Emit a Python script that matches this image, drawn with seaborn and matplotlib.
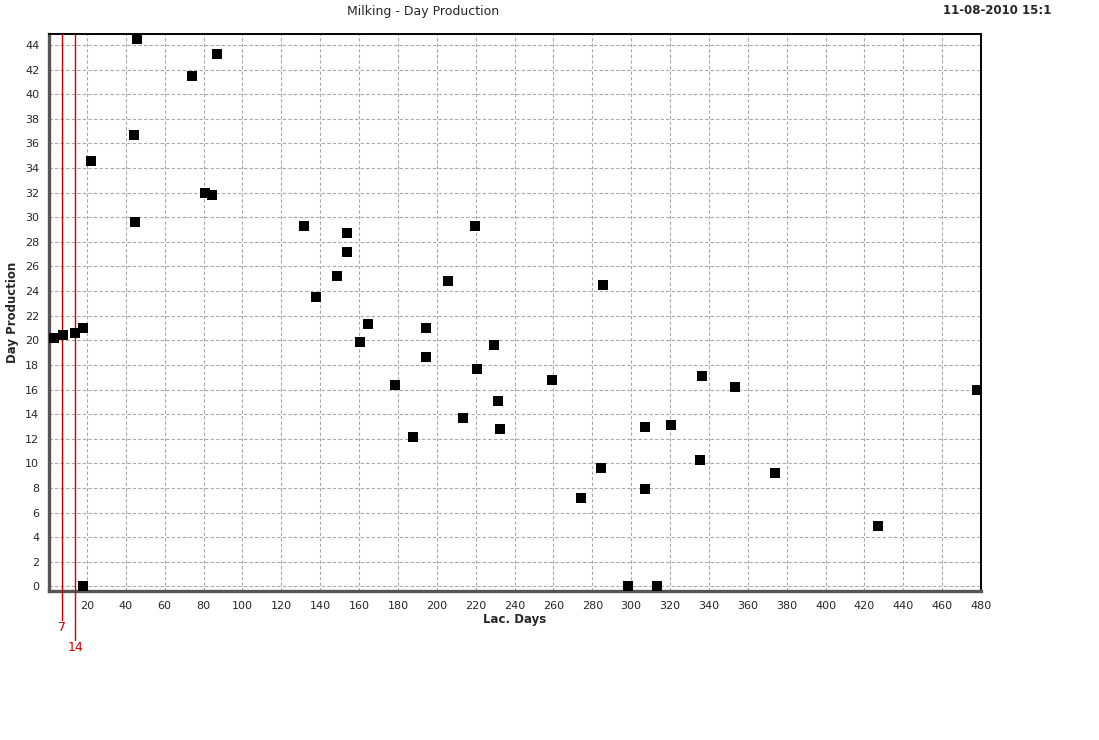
import numpy as np
import pandas as pd
import matplotlib
matplotlib.use("Agg")
import matplotlib.pyplot as plt
import matplotlib.transforms as mtransforms
from matplotlib.ticker import MultipleLocator
import seaborn as sns

# lactation day vs day production (kg)
lac_days = [3.0, 7.7, 13.8, 18.0, 18.0, 22.2, 45.9, 44.4, 44.9, 74.2,
            87.1, 80.7, 84.2, 131.8, 138.0, 148.8, 154.0, 154.0, 160.6, 164.8,
            178.7, 187.9, 194.6, 194.6, 205.9, 213.6, 219.8, 220.8, 229.6, 231.6,
            232.7, 259.4, 274.3, 284.6, 285.7, 298.5, 307.3, 307.3, 313.5, 320.7,
            335.6, 336.6, 353.6, 374.2, 427.2, 478.1]
day_prod = [20.2, 20.4, 20.6, 21.0, 0.0, 34.6, 44.5, 36.7, 29.6, 41.5,
            43.25, 31.95, 31.8, 29.3, 23.5, 25.2, 28.7, 27.15, 19.9, 21.3,
            16.4, 12.1, 21.0, 18.65, 24.8, 13.65, 29.3, 17.7, 19.6, 15.1,
            12.75, 16.8, 7.2, 9.6, 24.5, 0.0, 12.95, 7.9, 0.0, 13.1,
            10.3, 17.1, 16.2, 9.25, 4.9, 16.0]

# reference lines (days) and their labels
ref_days = [7, 14]
ref_labels = ["7", "14"]

title = "Milking - Day Production"
stamp = "11-08-2010 15:1"

df = pd.DataFrame({"Lac. Days": lac_days, "Day Production": day_prod})

sns.set_style("white")
plt.rcParams["font.family"] = ["DejaVu Sans"]

fig = plt.figure(figsize=(10.99, 7.40), dpi=100)
ax = fig.add_axes([49 / 1099, 1 - 591 / 740, 932 / 1099, 557 / 740])

sns.scatterplot(data=df, x="Lac. Days", y="Day Production", ax=ax,
                marker="s", s=52, color="black", linewidth=0, zorder=5)

ax.set_xlim(0.5, 480)
ax.set_ylim(-0.38, 44.9)
ax.set_xticks(np.arange(20, 481, 20))
ax.set_yticks(np.arange(0, 45, 2))
ax.xaxis.set_minor_locator(MultipleLocator(5))
ax.yaxis.set_minor_locator(MultipleLocator(0.5))
ax.tick_params(axis="both", which="major", direction="out", length=4, width=0.8,
               color="#555555", labelsize=8, pad=3)
ax.tick_params(axis="both", which="minor", direction="out", length=2, width=0.6,
               color="#777777")
ax.grid(True, which="major", color="#a8a8a8", linestyle=(0, (3, 2)), linewidth=0.8)
ax.set_axisbelow(True)

for side in ["left", "bottom"]:
    ax.spines[side].set_color("#555555")
    ax.spines[side].set_linewidth(2.4)
for side in ["top", "right"]:
    ax.spines[side].set_color("black")
    ax.spines[side].set_linewidth(1.4)

ax.set_xlabel("Lac. Days", fontsize=8.5, fontweight="bold", labelpad=2)
ax.set_ylabel("Day Production", fontsize=8.5, fontweight="bold", labelpad=4)

# red reference lines running below the axis, with labels
trans = mtransforms.blended_transform_factory(ax.transData, ax.transAxes)
ends = [-0.052, -0.088]
text_y = [-0.066, -0.102]
for d, lab, e, ty in zip(ref_days, ref_labels, ends, text_y):
    ax.plot([d, d], [1, e], transform=trans, color="#cc0000", linewidth=1.0,
            clip_on=False, zorder=3)
    ax.text(d, ty, lab, transform=trans, color="#cc0000", fontsize=9,
            ha="center", va="center")

fig.text(423 / 1099, 1 - 11 / 740, title, ha="center", va="center", fontsize=9)
fig.text(943 / 1099, 1 - 11 / 740, stamp, ha="left", va="center", fontsize=8.5,
         fontweight="bold")

fig.savefig("out.png", dpi=100, facecolor="white")
